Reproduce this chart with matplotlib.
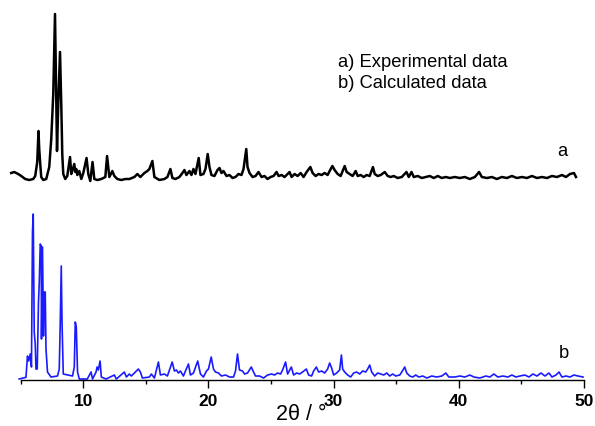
#!/usr/bin/env python3
"""
PXRD comparison: experimental vs calculated pattern.
"""

import numpy as np
import matplotlib
matplotlib.use("Agg")
import matplotlib.pyplot as plt
from matplotlib.ticker import MultipleLocator

plt.rcParams['font.family'] = ['Liberation Sans', 'DejaVu Sans']

# Experimental pattern (a), intensity in arbitrary units above its baseline
exp_2theta = [4.24, 4.48, 4.80, 5.04, 5.36, 5.68, 6.00, 6.16, 6.24, 6.32, 6.42, 6.48, 6.56, 6.64,
              6.80, 7.04, 7.28, 7.44, 7.60, 7.74, 7.84, 7.90, 8.00, 8.14, 8.24, 8.32, 8.40, 8.56,
              8.72, 8.94, 9.04, 9.12, 9.28, 9.36, 9.44, 9.52, 9.68, 9.84, 10.00, 10.26, 10.40,
              10.56, 10.74, 10.88, 11.12, 11.44, 11.76, 11.90, 12.08, 12.32, 12.48, 12.72, 13.04,
              13.36, 13.68, 14.08, 14.32, 14.56, 14.88, 15.12, 15.28, 15.52, 15.68, 16.08, 16.48,
              16.72, 16.96, 17.12, 17.36, 17.68, 17.92, 18.08, 18.24, 18.48, 18.64, 18.80, 18.96,
              19.22, 19.36, 19.60, 19.76, 19.94, 20.08, 20.24, 20.48, 20.72, 20.88, 21.04, 21.20,
              21.44, 21.68, 21.92, 22.16, 22.40, 22.64, 22.80, 23.02, 23.12, 23.28, 23.52, 23.76,
              24.00, 24.24, 24.48, 24.72, 24.96, 25.20, 25.44, 25.60, 25.84, 26.08, 26.32, 26.48,
              26.64, 26.88, 27.12, 27.36, 27.60, 27.84, 28.14, 28.32, 28.56, 28.80, 29.04, 29.28,
              29.52, 29.68, 29.90, 30.08, 30.32, 30.56, 30.72, 30.88, 31.04, 31.28, 31.52, 31.76,
              31.92, 32.16, 32.40, 32.64, 32.88, 33.14, 33.28, 33.52, 33.76, 34.08, 34.32, 34.56,
              34.80, 35.12, 35.44, 35.82, 36.00, 36.22, 36.40, 36.72, 37.04, 37.36, 37.68, 38.00,
              38.32, 38.64, 38.96, 39.28, 39.68, 40.08, 40.48, 40.88, 41.28, 41.62, 41.84, 42.24,
              42.64, 43.04, 43.44, 43.84, 44.24, 44.64, 45.04, 45.44, 45.84, 46.24, 46.64, 47.04,
              47.44, 47.84, 48.24, 48.56, 48.88, 49.20, 49.36]
exp_int = [7, 8, 6, 4, 1, 0, 1, 4, 11, 18, 49, 31, 16, 3,
           0, 1, 13, 41, 86, 166, 81, 29, 76, 128, 76, 26, 6, 1,
           4, 23, 6, 9, 16, 8, 11, 5, 9, 1, 7, 22, 6,
           -1, 18, 1, 0, 1, 3, 24, 3, 9, 4, 1, 0,
           1, 1, 3, 6, 3, 7, 9, 11, 19, 3, 0, 1,
           3, 11, 2, 1, 3, 7, 10, 5, 9, 5, 11, 6,
           22, 5, 6, 11, 26, 13, 5, 4, 10, 12, 7, 9,
           4, 5, 2, 3, 6, 5, 11, 31, 13, 7, 3, 4,
           8, 3, 4, 1, 3, 4, 8, 4, 5, 3, 6, 8,
           3, 6, 4, 7, 3, 8, 13, 7, 4, 6, 5, 7,
           5, 9, 14, 10, 6, 4, 9, 14, 8, 6, 4, 9,
           4, 5, 3, 5, 4, 13, 6, 4, 5, 8, 4, 3,
           4, 2, 3, 8, 3, 8, 3, 4, 2, 3, 4, 2,
           4, 2, 3, 2, 3, 2, 3, 1, 3, 8, 3, 2,
           3, 1, 3, 2, 4, 2, 3, 2, 4, 2, 3, 2,
           4, 3, 5, 3, 6, 7, 3]

# Calculated pattern (b)
calc_2theta = [4.88, 5.42, 5.54, 5.64, 5.76, 5.86, 5.94, 6.00, 6.08, 6.16, 6.22, 6.32, 6.42, 6.48,
               6.56, 6.64, 6.66, 6.74, 6.82, 6.88, 6.96, 7.02, 7.14, 7.42, 7.94, 8.08, 8.16, 8.24,
               8.30, 8.40, 9.14, 9.28, 9.36, 9.44, 9.54, 9.68, 10.32, 10.62, 10.74, 11.02, 11.10,
               11.20, 11.34, 11.44, 11.82, 12.48, 12.64, 13.28, 13.44, 13.68, 13.84, 14.16, 14.40,
               14.56, 14.72, 15.28, 15.44, 15.68, 16.00, 16.16, 16.48, 16.72, 17.10, 17.28, 17.44,
               17.60, 17.76, 18.00, 18.16, 18.40, 18.56, 18.80, 19.14, 19.36, 19.60, 19.84, 20.00,
               20.22, 20.40, 20.56, 20.80, 21.04, 21.36, 21.68, 22.00, 22.16, 22.32, 22.48, 22.72,
               22.88, 23.12, 23.42, 23.60, 23.76, 24.08, 24.40, 24.72, 25.04, 25.28, 25.52, 25.76,
               25.92, 26.16, 26.32, 26.62, 26.80, 27.04, 27.28, 27.52, 27.82, 28.00, 28.24, 28.40,
               28.62, 28.80, 29.04, 29.28, 29.52, 29.68, 29.84, 30.00, 30.24, 30.48, 30.62, 30.72,
               30.88, 31.12, 31.36, 31.60, 31.84, 32.08, 32.32, 32.56, 32.72, 32.88, 33.04, 33.28,
               33.52, 33.76, 34.00, 34.24, 34.48, 34.72, 34.96, 35.28, 35.44, 35.68, 35.84, 36.08,
               36.32, 36.56, 36.80, 37.12, 37.44, 37.84, 38.24, 38.64, 38.96, 39.20, 39.68, 40.08,
               40.48, 40.88, 41.20, 41.68, 42.16, 42.48, 42.80, 43.12, 43.52, 43.92, 44.24, 44.56,
               44.88, 45.28, 45.60, 45.92, 46.24, 46.56, 46.88, 47.20, 47.44, 47.76, 48.00, 48.24,
               48.56, 48.88, 49.20, 49.52, 49.92]
calc_int = [1, 2.7, 24, 19, 26, 13, 148, 166, 48, 36, 11, 11, 78, 96,
            136, 134, 41, 133, 44, 88, 88, 31, 8, 3, 4, 11, 58, 114,
            58, 6, 4, 13, 58, 53, 8, 1, 1, 8, 1, 8, 13,
            10, 19, 3, 1, 5, 1, 8, 3, 6, 4, 8, 11,
            8, 2, 3, 6, 2, 18, 5, 6, 4, 18, 9, 10,
            7, 9, 4, 9, 16, 5, 7, 19, 6, 3, 9, 11,
            23, 11, 8, 7, 4, 5, 3, 3, 9, 26, 10, 9,
            6, 7, 13, 8, 4, 4, 2, 5, 6, 5, 7, 6,
            10, 18, 6, 13, 5, 7, 6, 8, 11, 5, 4, 9,
            13, 8, 9, 7, 11, 17, 12, 5, 7, 10, 25, 11,
            8, 5, 3, 7, 8, 6, 9, 8, 11, 15, 8, 4,
            7, 6, 5, 7, 4, 6, 4, 5, 8, 13, 7, 4,
            3, 5, 3, 4, 2, 4, 3, 4, 7, 3, 3, 4,
            3, 5, 3, 2, 4, 3, 6, 3, 4, 3, 5, 3,
            4, 5, 3, 6, 4, 7, 4, 7, 3, 5, 8, 3,
            4, 3, 5, 4, 3]

x_ticks = [10, 20, 30, 40, 50]
exp_offset = 200

fig = plt.figure(figsize=(5.95, 4.27), dpi=100)
ax = fig.add_axes([0.0348, 0.1077, 0.9467, 0.8923])

ax.plot(calc_2theta, calc_int, color='#1a1aff', linewidth=1.2, clip_on=False)
ax.plot(exp_2theta, np.array(exp_int) + exp_offset, color='black', linewidth=1.8,
        clip_on=False)

ax.set_xlim(5, 50)
ax.set_ylim(0, 381)

for side in ['top', 'left', 'right']:
    ax.spines[side].set_visible(False)
ax.spines['bottom'].set_linewidth(1.0)
ax.set_yticks([])
ax.set_xticks(x_ticks)
ax.xaxis.set_minor_locator(MultipleLocator(5))
ax.tick_params(axis='x', which='major', direction='out', length=6, width=1,
               labelsize=12.5, pad=3.5)
ax.tick_params(axis='x', which='minor', direction='out', length=3, width=1)
for lbl in ax.get_xticklabels():
    lbl.set_fontweight('bold')

fig.text(0.507, 1 - 415 / 427, '2θ / °', ha='center', va='center', fontsize=15.5)

fig.text(338 / 595, 1 - 63 / 427, 'a) Experimental data', ha='left', va='center',
         fontsize=13.2)
fig.text(338 / 595, 1 - 84 / 427, 'b) Calculated data', ha='left', va='center',
         fontsize=13.2)
fig.text(557 / 595, 1 - 152 / 427, 'a', ha='left', va='center', fontsize=13.2)
fig.text(559 / 595, 1 - 354 / 427, 'b', ha='left', va='center', fontsize=13.2)

fig.savefig('out.png', dpi=100)
